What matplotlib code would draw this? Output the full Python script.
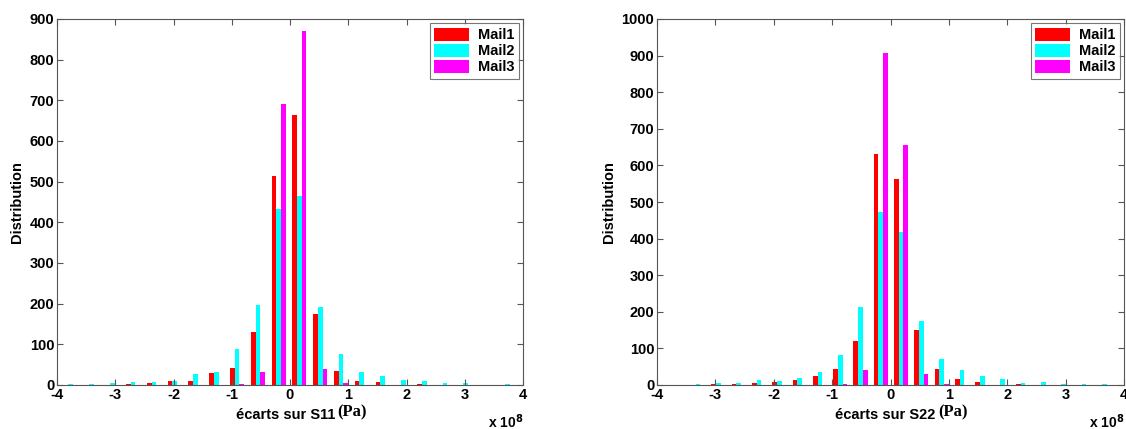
import numpy as np
import matplotlib
matplotlib.use('Agg')
import matplotlib.pyplot as plt

plt.rcParams['font.family'] = ['Liberation Sans', 'DejaVu Sans']
plt.rcParams['font.weight'] = 'bold'
plt.rcParams['axes.unicode_minus'] = False

series = ['Mail1', 'Mail2', 'Mail3']
colors = ['#ff0000', '#00ffff', '#ff00ff']

# left panel: S11, bin centres in units of 1e8 Pa
s11_centers = [-3.765, -3.408, -3.051, -2.694, -2.337, -1.980, -1.623, -1.266,
               -0.909, -0.552, -0.195, 0.162, 0.519, 0.876, 1.233, 1.590,
               1.947, 2.304, 2.661, 3.018, 3.375, 3.732]
s11_mail1 = [0, 1, 1, 2.5, 5, 11, 11, 29, 43, 130, 515, 665, 174, 35, 11, 7, 1, 3, 0, 0, 0, 0]
s11_mail2 = [2, 2, 5, 7, 8, 9, 27, 33, 88, 196, 434, 464, 192, 76, 33, 22, 13, 11, 5, 5, 1, 2]
s11_mail3 = [0, 0, 0, 0, 0, 0, 0, 1, 3, 33, 691, 871, 39, 4, 0, 0, 0, 0, 0, 0, 0, 0]

# right panel: S22
s22_centers = [-3.994, -3.646, -3.298, -2.950, -2.602, -2.254, -1.906, -1.558,
               -1.210, -0.862, -0.514, -0.166, 0.182, 0.530, 0.878, 1.226,
               1.574, 1.922, 2.270, 2.618, 2.966, 3.314, 3.662]
s22_mail1 = [0, 0, 1, 2, 3, 5, 9, 15, 25, 43, 121, 630, 563, 150, 45, 16, 8, 1, 3, 0, 0, 0, 0]
s22_mail2 = [1, 1, 3, 5, 6, 14, 11, 20, 35, 82, 214, 474, 417, 175, 72, 42, 25, 16, 5, 8, 4, 3, 3]
s22_mail3 = [0, 0, 0, 0, 0, 0, 0, 0, 0, 3, 42, 907, 655, 31, 4, 0, 0, 0, 0, 0, 0, 0, 0]

panels = [
    (s11_centers, [s11_mail1, s11_mail2, s11_mail3], 900, 'écarts sur S11'),
    (s22_centers, [s22_mail1, s22_mail2, s22_mail3], 1000, 'écarts sur S22'),
]
rects = [[57/1126, 1-385/429, 466/1126, 366/429],
         [657/1126, 1-385/429, 467/1126, 366/429]]

fig = plt.figure(figsize=(11.26, 4.29), dpi=100)
bw = 0.08
for (centers, vals, ymax, lab), r in zip(panels, rects):
    ax = fig.add_axes(r)
    x = np.array(centers)
    for i in range(3):
        ax.bar(x + (i-1)*bw, vals[i], width=bw, color=colors[i], label=series[i], linewidth=0)
    ax.set_xlim(-4, 4)
    ax.set_ylim(0, ymax)
    ax.set_xticks(range(-4, 5))
    ax.set_yticks(range(0, ymax+1, 100))
    ax.tick_params(direction='in', top=True, right=True, length=4, color='#555555',
                   labelsize=10.5, pad=2)
    for lbl in ax.get_xticklabels() + ax.get_yticklabels():
        lbl.set_fontweight('bold')
    for s in ax.spines.values():
        s.set_color('#555555')
        s.set_linewidth(0.8)
    ax.set_ylabel('Distribution', fontsize=10.5, fontweight='bold', labelpad=4)
    ax.text(0.597, -0.062, lab, transform=ax.transAxes, ha='right', va='top',
            fontsize=10.5, fontweight='bold')
    ax.text(0.602, -0.052, '(Pa)', transform=ax.transAxes, ha='left', va='top',
            fontsize=12, fontweight='bold', family='Liberation Serif')
    ax.text(1.0, -0.075, r'x 10$^{8}$', transform=ax.transAxes, ha='right', va='top',
            fontsize=10, fontweight='bold')
    leg = ax.legend(loc='upper right', fontsize=10.5, frameon=True, fancybox=False,
                    borderpad=0.3, labelspacing=0.1, handlelength=2.4, handleheight=1.0,
                    handletextpad=0.6, borderaxespad=0.3)
    leg.get_frame().set_edgecolor('#555555')
    leg.get_frame().set_linewidth(0.8)
    for t in leg.get_texts():
        t.set_fontweight('bold')

fig.savefig('out.png', dpi=100)
